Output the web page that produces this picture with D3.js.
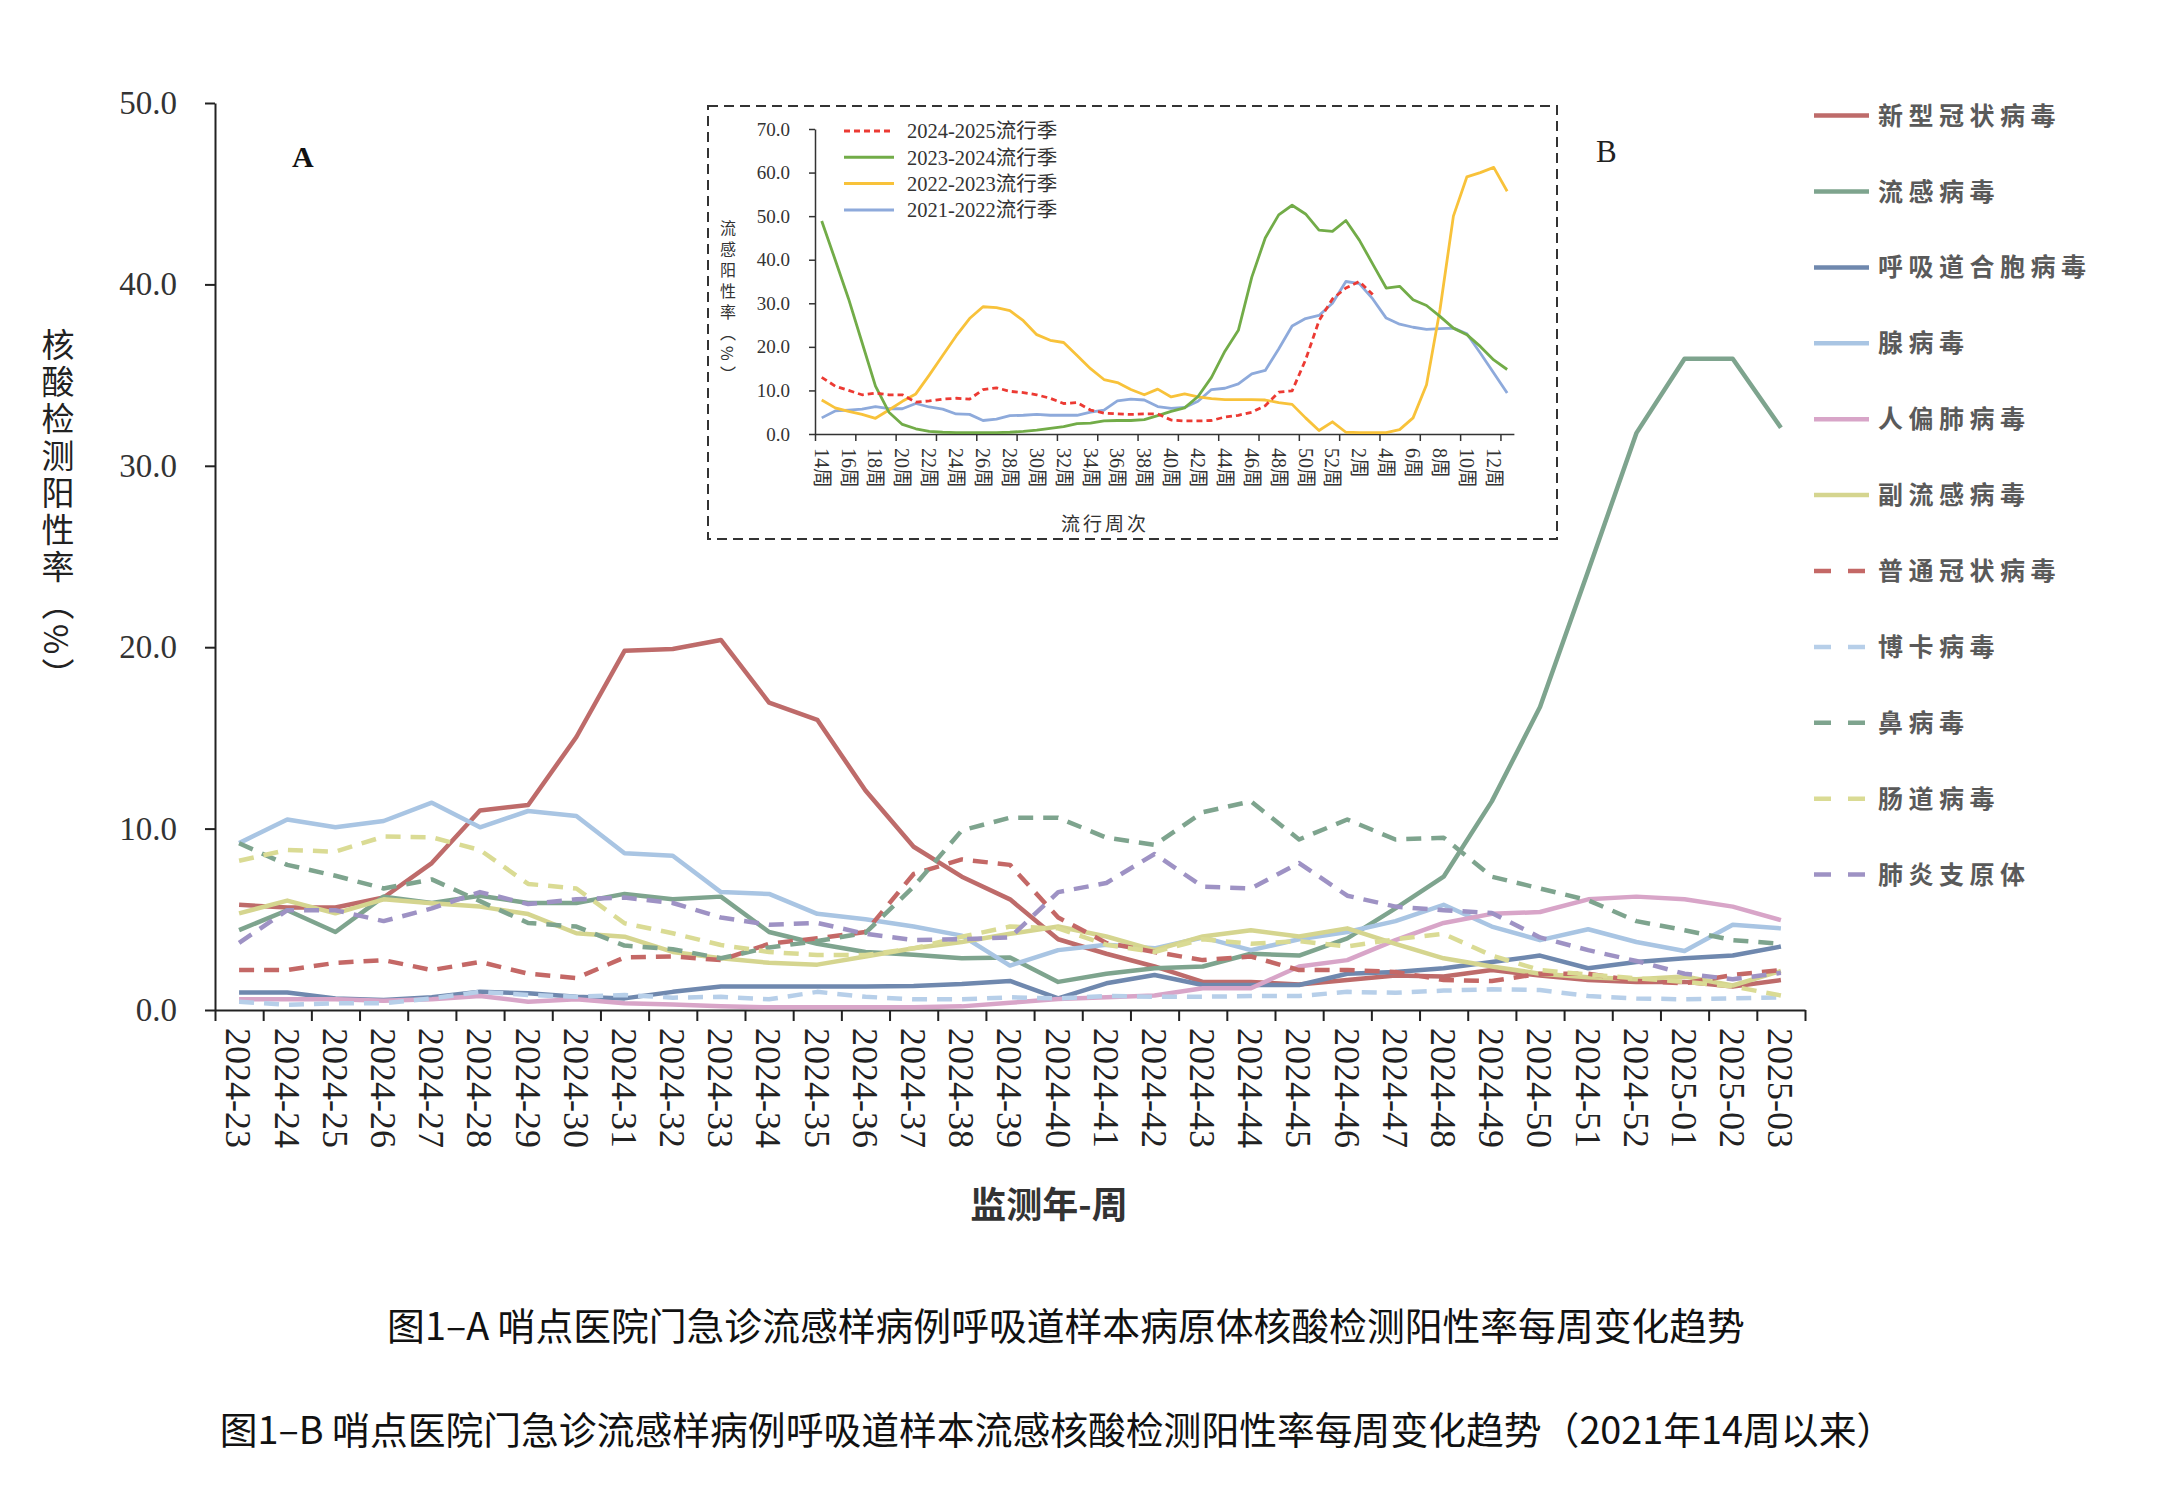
<!DOCTYPE html>
<html>
<head>
<meta charset="utf-8">
<script src="https://cdn.jsdelivr.net/npm/d3@7"></script>
<style>
  body { margin: 0; background: #fff; }
</style>
</head>
<body>
<div id="chart"></div>
<script>
// ---- data: main chart (A) ----
var weeks = ["2024-23","2024-24","2024-25","2024-26","2024-27","2024-28","2024-29","2024-30",
  "2024-31","2024-32","2024-33","2024-34","2024-35","2024-36","2024-37","2024-38","2024-39",
  "2024-40","2024-41","2024-42","2024-43","2024-44","2024-45","2024-46","2024-47","2024-48",
  "2024-49","2024-50","2024-51","2024-52","2025-01","2025-02","2025-03"];

var sarsCov2 = [5.8,5.65,5.65,6.2,8.1,11.0,11.3,15.05,19.8,19.9,20.4,16.95,16.0,12.1,9.0,7.35,6.1,3.9,3.1,2.4,1.55,1.55,1.4,1.65,1.9,1.85,2.2,1.9,1.65,1.55,1.55,1.3,1.65];
var influenza = [4.4,5.5,4.3,6.25,5.9,6.3,5.9,5.9,6.4,6.1,6.25,4.3,3.65,3.2,3.05,2.85,2.9,1.55,2.0,2.3,2.4,3.1,3.0,3.95,5.6,7.35,11.5,16.7,24.2,31.8,35.9,35.9,32.1];
var rsv = [0.97,0.97,0.64,0.55,0.7,1.0,0.92,0.73,0.64,1.0,1.29,1.29,1.29,1.29,1.32,1.43,1.6,0.64,1.47,1.93,1.38,1.38,1.38,2.0,2.1,2.3,2.65,3.0,2.3,2.65,2.85,3.0,3.5];
var adeno = [9.2,10.5,10.07,10.42,11.43,10.07,10.97,10.69,8.64,8.5,6.5,6.4,5.3,5.0,4.6,4.1,2.45,3.3,3.6,3.4,4.0,3.3,3.9,4.3,4.9,5.8,4.6,3.85,4.45,3.75,3.25,4.7,4.5];
var hmpv = [0.59,0.59,0.59,0.51,0.59,0.77,0.46,0.59,0.37,0.3,0.2,0.15,0.15,0.15,0.15,0.2,0.4,0.6,0.7,0.8,1.2,1.2,2.4,2.75,3.85,4.8,5.3,5.4,6.1,6.25,6.1,5.7,4.95];
var paraflu = [5.33,6.03,5.33,6.1,5.88,5.7,5.29,4.23,4.04,3.2,2.85,2.6,2.5,2.95,3.4,3.75,4.2,4.6,4.05,3.3,4.05,4.4,4.05,4.5,3.65,2.85,2.4,2.0,1.8,1.7,1.85,1.35,2.15];
var hcov = [2.2,2.2,2.6,2.75,2.2,2.65,2.0,1.76,2.9,2.95,2.75,3.65,3.95,4.3,7.5,8.3,8.0,5.1,3.7,3.2,2.75,2.95,2.2,2.2,2.1,1.65,1.6,2.0,2.0,1.6,1.47,1.93,2.2];
var boca = [0.46,0.28,0.37,0.37,0.64,1.0,0.83,0.73,0.83,0.68,0.73,0.59,1.0,0.73,0.59,0.59,0.7,0.64,0.77,0.73,0.73,0.77,0.77,1.0,0.95,1.07,1.14,1.1,0.77,0.64,0.59,0.64,0.7];
var rhino = [9.19,8.0,7.4,6.7,7.2,6.0,4.8,4.6,3.55,3.35,2.85,3.45,3.8,4.25,6.8,9.9,10.6,10.6,9.5,9.1,10.9,11.5,9.4,10.5,9.4,9.5,7.35,6.7,6.05,4.9,4.4,3.85,3.65];
var entero = [8.23,8.82,8.73,9.56,9.52,8.82,6.95,6.7,4.78,4.23,3.58,3.2,3.03,3.03,3.4,4.04,4.6,4.5,3.6,3.2,3.9,3.65,3.8,3.5,3.9,4.2,3.0,2.2,1.95,1.75,1.55,1.3,0.8];
var mycoplasma = [3.7,5.5,5.5,4.9,5.6,6.5,5.84,6.1,6.2,5.9,5.1,4.7,4.8,4.2,3.86,3.9,4.0,6.5,7.0,8.6,6.8,6.7,8.1,6.3,5.7,5.5,5.35,4.0,3.3,2.7,2.0,1.7,2.05];

var seriesNames = ["新型冠状病毒","流感病毒","呼吸道合胞病毒","腺病毒","人偏肺病毒","副流感病毒",
  "普通冠状病毒","博卡病毒","鼻病毒","肠道病毒","肺炎支原体"];
var seriesData = [sarsCov2, influenza, rsv, adeno, hmpv, paraflu, hcov, boca, rhino, entero, mycoplasma];
var seriesColors = ["#be6b6a","#7ea48e","#6f88ae","#a9c5e3","#d8a5c8","#d5d58f",
  "#c46866","#b7cfe9","#7ea48e","#dadb94","#9e92c4"];
var seriesDashed = [false,false,false,false,false,false,true,true,true,true,true];
var yTicks = [0,10,20,30,40,50];

// ---- data: inset (B) ----
var insetWeeks = [14,15,16,17,18,19,20,21,22,23,24,25,26,27,28,29,30,31,32,33,34,35,36,37,38,39,
  40,41,42,43,44,45,46,47,48,49,50,51,52,1,2,3,4,5,6,7,8,9,10,11,12,13];
var s2024 = [13.0,11.0,10.0,9.0,9.4,9.0,9.0,7.3,7.6,8.0,8.2,8.0,10.2,10.6,9.8,9.5,9.0,8.2,7.0,7.2,5.5,4.8,4.6,4.5,4.6,4.6,3.2,3.0,3.0,3.1,3.9,4.3,5.0,6.5,9.6,9.9,17.0,26.0,31.0,33.5,35.0,32.0];
var s2023 = [48.9,40,31,21,11,5,2.2,1.2,0.6,0.4,0.3,0.3,0.3,0.3,0.4,0.6,0.9,1.3,1.7,2.4,2.5,3.0,3.1,3.1,3.3,4.2,5.2,6.0,8.6,13.0,19.0,23.8,36.0,45.0,50.3,52.5,50.5,46.8,46.5,49.0,44.5,39.0,33.5,33.9,30.8,29.5,27.0,24.3,22.8,20.1,17.0,14.8];
var s2022 = [7.8,6.0,5.2,4.5,3.6,5.5,7.5,9.2,13.5,18.0,22.5,26.5,29.2,29.0,28.3,26.0,22.8,21.5,21.0,18.0,15.0,12.5,11.8,10.2,9.0,10.3,8.5,9.2,8.5,8.1,7.9,7.9,7.9,7.8,7.2,6.8,3.7,0.8,2.8,0.4,0.3,0.3,0.3,1.0,3.7,11.3,28.5,50.0,59.0,60.0,61.2,55.7];
var s2021 = [3.7,5.3,5.5,5.7,6.3,5.8,5.8,7.0,6.2,5.7,4.6,4.5,3.1,3.4,4.2,4.3,4.5,4.3,4.3,4.3,5.0,5.5,7.6,8.0,7.8,6.3,5.9,6.1,7.5,10.2,10.5,11.5,13.8,14.6,19.5,24.8,26.5,27.2,30.0,35.0,34.5,31.0,26.6,25.2,24.5,24.0,24.2,24.3,23.0,18.6,14.0,9.4];
var insetNames = ["2024-2025流行季","2023-2024流行季","2022-2023流行季","2021-2022流行季"];
var insetData = [s2024, s2023, s2022, s2021];
var insetColors = ["#ec3a33","#72ac48","#f8c23a","#8eaadb"];
var insetTicks = [0,10,20,30,40,50,60,70];

var W = 2184, H = 1494;
var serif = "'Liberation Serif','Times New Roman',serif";
var cjk = "'Noto Sans CJK SC','Noto Sans',sans-serif";
var serifCjk = "'Liberation Serif','Noto Sans CJK SC',serif";

var svg = d3.select("#chart").append("svg")
  .attr("width", W).attr("height", H)
  .style("background", "#fff");

// ---------- main chart ----------
var x = d3.scaleBand().domain(weeks).range([215, 1805]).padding(0);
var xEdge = d3.scaleLinear().domain([0, weeks.length]).range([215, 1805]);
var y = d3.scaleLinear().domain([0, 50]).range([1010, 103]);

// y axis
var yAxis = svg.append("g")
  .attr("transform", "translate(215,0)")
  .call(d3.axisLeft(y).tickValues(yTicks).tickSize(10).tickSizeOuter(0).tickPadding(28)
    .tickFormat(d3.format(".1f")));
yAxis.select(".domain").attr("stroke", "#222").attr("stroke-width", 2);
yAxis.selectAll(".tick line").attr("stroke", "#222").attr("stroke-width", 2);
yAxis.selectAll("text").attr("font-family", serif).attr("font-size", 33).attr("fill", "#333");

// x axis: tick marks at category edges
var xTickAxis = svg.append("g")
  .attr("transform", "translate(0,1010)")
  .call(d3.axisBottom(xEdge).tickValues(d3.range(0, weeks.length + 1)).tickSize(11)
    .tickSizeOuter(0).tickFormat(""));
xTickAxis.select(".domain").attr("stroke", "#222").attr("stroke-width", 2);
xTickAxis.selectAll(".tick line").attr("stroke", "#222").attr("stroke-width", 2);

// x axis labels
var xLab = svg.append("g")
  .attr("transform", "translate(0,1010)")
  .call(d3.axisBottom(x).tickSize(0));
xLab.select(".domain").remove();
xLab.selectAll("text")
  .attr("transform", "rotate(90)")
  .attr("x", 18).attr("y", 0).attr("dy", "0.35em")
  .style("text-anchor", "start")
  .attr("font-family", serif).attr("font-size", 36).attr("fill", "#222");

// lines
var line = d3.line()
  .x(function (d, i) { return x(weeks[i]) + x.bandwidth() / 2; })
  .y(function (d) { return y(d); });

svg.append("g").selectAll("path")
  .data(seriesData)
  .enter().append("path")
    .attr("d", line)
    .attr("fill", "none")
    .attr("stroke", function (d, i) { return seriesColors[i]; })
    .attr("stroke-width", 4.5)
    .attr("stroke-linejoin", "round")
    .attr("stroke-dasharray", function (d, i) { return seriesDashed[i] ? "15,10" : null; });

// legend
var leg = svg.append("g").selectAll("g")
  .data(seriesNames)
  .enter().append("g")
    .attr("transform", function (d, i) { return "translate(1814," + (115.6 + i * 75.9) + ")"; });
leg.append("line")
  .attr("x1", 0).attr("x2", 55).attr("y1", 0).attr("y2", 0)
  .attr("stroke", function (d, i) { return seriesColors[i]; })
  .attr("stroke-width", 4.5)
  .attr("stroke-dasharray", function (d, i) { return seriesDashed[i] ? "17,17" : null; });
leg.append("text")
  .attr("x", 64).attr("y", 0).attr("dy", "0.36em")
  .attr("font-family", cjk).attr("font-size", 25).attr("letter-spacing", 5.5)
  .attr("font-weight", "bold").attr("fill", "#5a5a5a")
  .text(function (d) { return d; });

// panel letters
svg.append("text").attr("x", 292).attr("y", 167).text("A")
  .attr("font-family", serif).attr("font-weight", "bold").attr("font-size", 30).attr("fill", "#111");
svg.append("text").attr("x", 1596).attr("y", 162).text("B")
  .attr("font-family", serif).attr("font-size", 31).attr("fill", "#222");

// axis titles
svg.append("text")
  .attr("x", 58).attr("y", 328)
  .style("writing-mode", "vertical-rl")
  .attr("font-family", cjk).attr("font-size", 33).attr("letter-spacing", 4)
  .attr("fill", "#222")
  .text("核酸检测阳性率（%）");

svg.append("text")
  .attr("x", 1049).attr("y", 1218)
  .attr("text-anchor", "middle")
  .attr("font-family", cjk).attr("font-size", 36).attr("font-weight", "bold")
  .attr("fill", "#333")
  .text("监测年-周");

// captions
svg.append("text")
  .attr("x", 1066).attr("y", 1340).attr("text-anchor", "middle")
  .attr("font-family", cjk).attr("font-size", 37.8).attr("fill", "#111")
  .text("图1–A 哨点医院门急诊流感样病例呼吸道样本病原体核酸检测阳性率每周变化趋势");
svg.append("text")
  .attr("x", 1057).attr("y", 1444).attr("text-anchor", "middle")
  .attr("font-family", cjk).attr("font-size", 37.8).attr("fill", "#111")
  .text("图1–B 哨点医院门急诊流感样病例呼吸道样本流感核酸检测阳性率每周变化趋势（2021年14周以来）");

// ---------- inset ----------
var inset = svg.append("g");
inset.append("rect")
  .attr("x", 708).attr("y", 106).attr("width", 849).attr("height", 433)
  .attr("fill", "#fff").attr("stroke", "#333").attr("stroke-width", 2)
  .attr("stroke-dasharray", "10,6");

var ix0 = 815, ixStep = 13.44;
var ix = d3.scaleBand().domain(d3.range(insetWeeks.length)).range([ix0, ix0 + ixStep * insetWeeks.length]).padding(0);
var ixEdge = d3.scaleLinear().domain([0, insetWeeks.length]).range([ix0, ix0 + ixStep * insetWeeks.length]);
var iy = d3.scaleLinear().domain([0, 70]).range([434, 129]);

var iyAxis = inset.append("g")
  .attr("transform", "translate(" + ix0 + ",0)")
  .call(d3.axisLeft(iy).tickValues(insetTicks).tickSize(6).tickSizeOuter(0).tickPadding(19)
    .tickFormat(d3.format(".1f")));
iyAxis.select(".domain").attr("stroke", "#333").attr("stroke-width", 1.5);
iyAxis.selectAll(".tick line").attr("stroke", "#333").attr("stroke-width", 1.5);
iyAxis.selectAll("text").attr("font-family", serif).attr("font-size", 19).attr("fill", "#333");

var ixTicks = inset.append("g")
  .attr("transform", "translate(0,434)")
  .call(d3.axisBottom(ixEdge).tickValues(d3.range(0, insetWeeks.length + 1, 3)).tickSize(7)
    .tickSizeOuter(0).tickFormat(""));
ixTicks.select(".domain").attr("stroke", "#333").attr("stroke-width", 1.5);
ixTicks.selectAll(".tick line").attr("stroke", "#333").attr("stroke-width", 1.5);

var ixLab = inset.append("g")
  .attr("transform", "translate(0,434)")
  .call(d3.axisBottom(ix).tickSize(0)
    .tickValues(d3.range(0, insetWeeks.length, 2))
    .tickFormat(function (i) { return insetWeeks[i] + "周"; }));
ixLab.select(".domain").remove();
ixLab.selectAll("text")
  .attr("transform", "rotate(90)")
  .attr("x", 14).attr("y", 0).attr("dy", "0.35em")
  .style("text-anchor", "start")
  .attr("font-family", serifCjk).attr("font-size", 20).attr("fill", "#333");

var iline = d3.line()
  .x(function (d, i) { return ix(i) + ix.bandwidth() / 2; })
  .y(function (d) { return iy(d); });

inset.append("g").selectAll("path")
  .data(insetData.slice().reverse())
  .enter().append("path")
    .attr("d", iline)
    .attr("fill", "none")
    .attr("stroke", function (d, i) { return insetColors[3 - i]; })
    .attr("stroke-width", 2.8)
    .attr("stroke-linejoin", "round")
    .attr("stroke-dasharray", function (d, i) { return i === 3 ? "6,4" : null; });

var ileg = inset.append("g").selectAll("g")
  .data(insetNames)
  .enter().append("g")
    .attr("transform", function (d, i) { return "translate(844," + (131 + i * 26.3) + ")"; });
ileg.append("line")
  .attr("x1", 0).attr("x2", 50).attr("y1", 0).attr("y2", 0)
  .attr("stroke", function (d, i) { return insetColors[i]; })
  .attr("stroke-width", 3)
  .attr("stroke-dasharray", function (d, i) { return i === 0 ? "6,4" : null; });
ileg.append("text")
  .attr("x", 63).attr("y", 0).attr("dy", "0.36em")
  .attr("font-family", serifCjk).attr("font-size", 20.5).attr("fill", "#333")
  .text(function (d) { return d; });

inset.append("text")
  .attr("x", 728).attr("y", 220)
  .style("writing-mode", "vertical-rl")
  .attr("font-family", cjk).attr("font-size", 16).attr("letter-spacing", 5)
  .attr("fill", "#333")
  .text("流感阳性率（%）");

inset.append("text")
  .attr("x", 1105).attr("y", 531).attr("text-anchor", "middle")
  .attr("font-family", cjk).attr("font-size", 19).attr("letter-spacing", 3)
  .attr("fill", "#333")
  .text("流行周次");
</script>
</body>
</html>
